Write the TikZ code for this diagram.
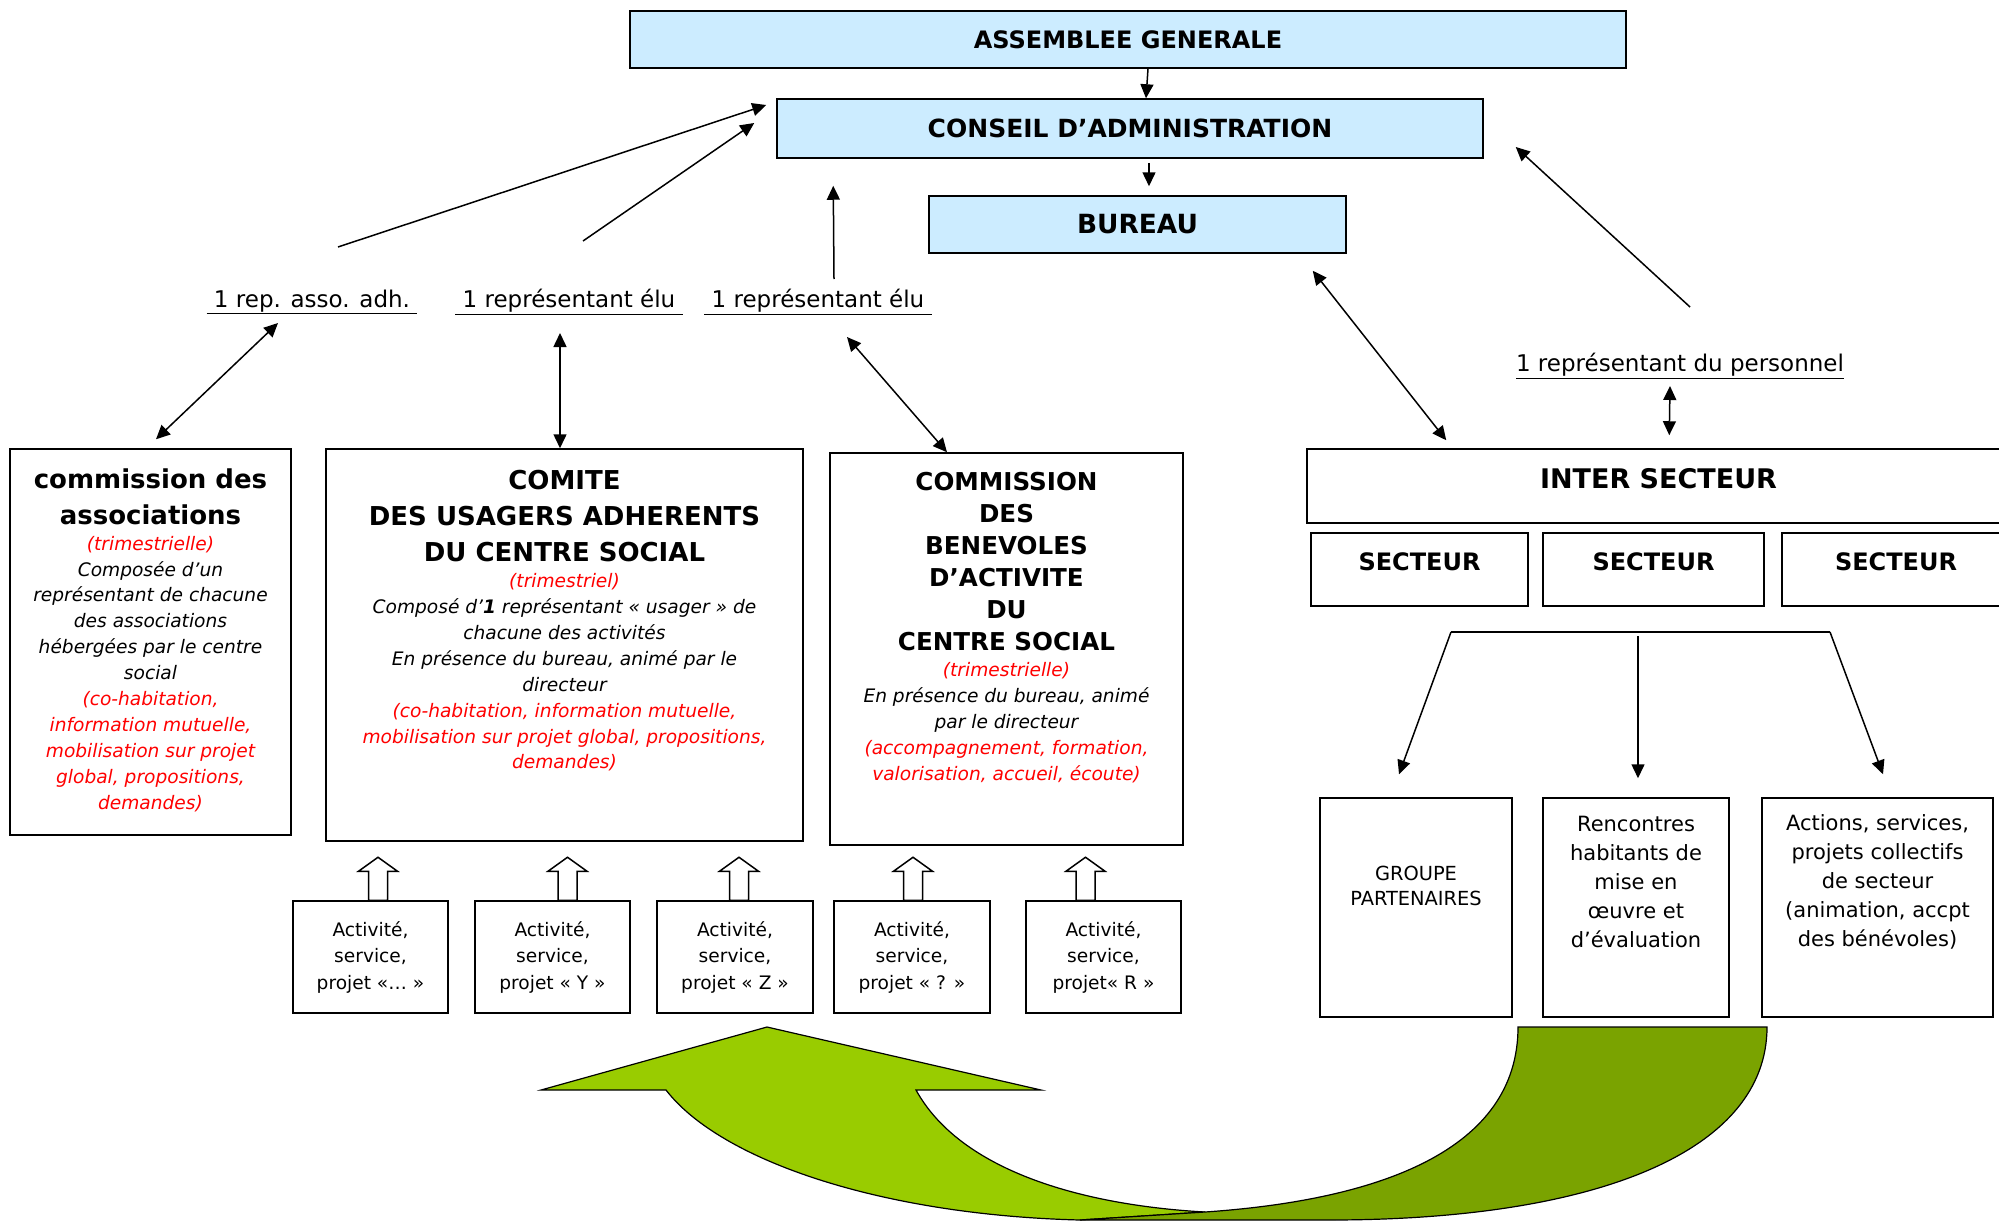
\documentclass[tikz,border=0pt]{standalone}
\usepackage{fontspec}
\setmainfont{DejaVu Sans}
\usepackage{tikz}
\usetikzlibrary{arrows.meta,positioning,calc}

\definecolor{bleuclair}{RGB}{204,236,255}
\definecolor{vertclair}{RGB}{153,204,0}
\definecolor{vertfonce}{RGB}{122,163,0}

\newcommand{\titre}{\fontsize{26}{36}\selectfont\bfseries}
\newcommand{\petit}{\fontsize{18.6}{25.9}\selectfont\itshape}
\newcommand{\rouge}{\petit\leavevmode\color{red}}

\begin{document}
\begin{tikzpicture}[
    x=1pt, y=-1pt,
    cadre/.style={draw, line width=1.5pt, inner sep=0pt},
    bleu/.style={cadre, fill=bleuclair, font=\fontsize{24}{28}\selectfont\bfseries},
    txt/.style={inner sep=0pt, align=flush center},
    lab/.style={inner sep=0pt, font=\fontsize{23}{28}\selectfont},
    act/.style={cadre, minimum width=155pt, minimum height=112pt, align=center, font=\fontsize{18.6}{26.5}\selectfont},
    sect/.style={cadre, minimum height=73pt, text depth=16pt, font=\fontsize{24}{28}\selectfont\bfseries},
    res/.style={cadre, minimum height=219pt},
    arr/.style={-{Triangle[length=14pt,width=13pt]}, line width=1.5pt},
    dbl/.style={{Triangle[length=14pt,width=13pt]}-{Triangle[length=14pt,width=13pt]}, line width=1.5pt},
    hol/.style={draw, fill=white, line width=1.5pt}
]
\useasboundingbox (0,0) rectangle (1999,1223);

% direction
\node[bleu, minimum width=996pt, minimum height=57pt] (ag) at (1128,39.5) {ASSEMBLEE GENERALE};
\node[bleu, font=\fontsize{25}{28}\selectfont\bfseries, minimum width=706pt, minimum height=59pt] (ca) at (1130,128.5) {CONSEIL D’ADMINISTRATION};
\node[bleu, font=\fontsize{26.4}{28}\selectfont\bfseries, minimum width=417pt, minimum height=57pt] (bureau) at (1137.5,224.5) {BUREAU};

% representants
\node[lab] (repasso) at (312,302) {\underline{\ 1 rep. asso. adh.\ }};
\node[lab] (elu1) at (569,302) {\underline{\ 1 représentant élu\ }};
\node[lab] (elu2) at (818,302) {\underline{\ 1 représentant élu\ }};
\node[lab] (perso) at (1680,366) {\underline{1 représentant du personnel}};

% commissions
\node[cadre, minimum width=281pt, minimum height=386pt] (comassoc) at (150.5,642) {};
\node[txt, text width=277pt, below=20pt of comassoc.north] (comassoctxt) {{\titre commission des\\associations\par}{\rouge (trimestrielle)\par}{\petit Composée d’un\\représentant de chacune\\des associations\\hébergées par le centre\\social\par}{\rouge (co-habitation,\\information mutuelle,\\mobilisation sur projet\\global, propositions,\\demandes)\par}};

\node[cadre, minimum width=477pt, minimum height=392pt] (comite) at (564.5,645) {};
\node[txt, text width=473pt, below=22pt of comite.north] (comitetxt) {{\titre COMITE\\DES USAGERS ADHERENTS\\DU CENTRE SOCIAL\par}{\rouge (trimestriel)\par}{\petit Composé d’\textbf{1} représentant « usager » de\\chacune des activités\\En présence du bureau, animé par le\\directeur\par}{\rouge (co-habitation, information mutuelle,\\mobilisation sur projet global, propositions,\\demandes)\par}};

\node[cadre, minimum width=353pt, minimum height=392pt] (combene) at (1006.5,649) {};
\node[txt, text width=349pt, below=20pt of combene.north] (combenetxt) {{\fontsize{24.6}{32}\selectfont\bfseries COMMISSION\\DES\\BENEVOLES\\D’ACTIVITE\\DU\\CENTRE SOCIAL\par}{\rouge (trimestrielle)\par}{\petit En présence du bureau, animé\\par le directeur\par}{\rouge (accompagnement, formation,\\valorisation, accueil, écoute)\par}};

% secteurs
\node[sect, font=\fontsize{27}{30}\selectfont\bfseries, minimum width=703pt, minimum height=74pt] (inter) at (1658.5,486) {INTER SECTEUR};
\node[sect, minimum width=217pt] (sec1) at (1419.5,569.5) {SECTEUR};
\node[sect, minimum width=221pt, right=13.5pt of sec1] (sec2) {SECTEUR};
\node[sect, minimum width=228pt, right=16.5pt of sec2] (sec3) {SECTEUR};

% activites
\node[act] (act1) at (370.5,957) {Activité,\\service,\\projet «… »};
\node[act, right=25.5pt of act1] (act2) {Activité,\\service,\\projet « Y »};
\node[act, minimum width=156pt, right=25.5pt of act2] (act3) {Activité,\\service,\\projet « Z »};
\node[act, minimum width=156pt, right=19.5pt of act3] (act4) {Activité,\\service,\\projet « ? »};
\node[act, right=34.5pt of act4] (act5) {Activité,\\service,\\projet« R »};

% groupes de secteur
\node[res, minimum width=192pt] (groupe) at (1416,907.5) {};
\node[res, minimum width=186pt, right=29.5pt of groupe] (rencontres) {};
\node[res, minimum width=231pt, right=31.5pt of rencontres] (actions) {};
\node[txt, font=\fontsize{19.4}{25.5}\selectfont] (groupetxt) at ([yshift=21.5pt]groupe.center) {GROUPE\\PARTENAIRES};
\node[txt, font=\fontsize{21}{29}\selectfont] (rencontrestxt) at ([yshift=25.5pt]rencontres.center) {Rencontres\\habitants de\\mise en\\œuvre et\\d’évaluation};
\node[txt, font=\fontsize{21}{29}\selectfont] (actionstxt) at ([yshift=25.5pt]actions.center) {Actions, services,\\projets collectifs\\de secteur\\(animation, accpt\\des bénévoles)};

% fleches
\draw[arr] ($(ag.south)+(20,0)$) -- ($(ca.north)+(16,0)$);
\draw[arr] ($(ca.south)+(19,4)$) -- ($(bureau.north)+(11.5,-9)$);
\draw[arr] ($(repasso)+(26,-55)$) -- ($(ca.west)+(-10,-23.5)$);
\draw[arr] ($(elu1)+(14,-61)$) -- ($(ca.west)+(-22,-5.5)$);
\draw[arr] ($(elu2)+(16,-23)$) -- ($(ca.south west)+(57,27)$);
\draw[arr] ($(perso)+(10,-59)$) -- ($(ca.east)+(32,18.5)$);
\draw[dbl] ($(repasso)+(-34,21)$) -- ($(comassoc.north)+(5.5,-9)$);
\draw[dbl] ($(elu1)+(-9,31)$) -- ($(comite.north)+(-4.5,0)$);
\draw[dbl] ($(elu2)+(29,35)$) -- ($(combene.north)+(-59.5,0)$);
\draw[dbl] ($(bureau.south east)+(-34,17)$) -- ($(inter.north west)+(140,-8)$);
\draw[dbl] ($(perso)+(-10,20)$) -- ($(inter.north west)+(363,-13)$);

% fourche sous les secteurs
\coordinate (fl) at (1451,632);
\coordinate (fm) at (1638,632);
\coordinate (fr) at (1830,632);
\draw[line width=1.5pt] (fl) -- (fr);
\draw[arr] (fl) -- ($(groupe.north)+(-17,-23)$);
\draw[arr] ($(fm)+(0,4)$) -- ($(rencontres.north)+(2,-19)$);
\draw[arr] (fr) -- ($(actions.north)+(5.5,-23)$);

% fleches creuses
\foreach \b/\dx in {act1/7.5, act2/15, act3/4, act4/1, act5/-18}
  \draw[hol] ($(\b.north)+(\dx-9.5,0)$) -- ++(0,-29) -- ++(-10,0) -- ++(19.5,-14) -- ++(19.5,14) -- ++(-10,0) -- ++(0,29) -- cycle;

% grande fleche verte
\filldraw[fill=vertclair, line width=1.2pt] (767,1027) -- (1041,1090) -- (916,1090) .. controls (960,1170) and (1080,1205) .. (1205,1212) -- (1080,1220) .. controls (880,1215) and (720,1160) .. (666,1090) -- (541,1090) -- cycle;
\filldraw[fill=vertfonce, line width=1.2pt] (1518,1027) -- (1767,1027) .. controls (1767,1150) and (1600,1220) .. (1329,1220) -- (1080,1220) -- (1205,1212) .. controls (1380,1200) and (1518,1150) .. (1518,1027) -- cycle;
\end{tikzpicture}
\end{document}
